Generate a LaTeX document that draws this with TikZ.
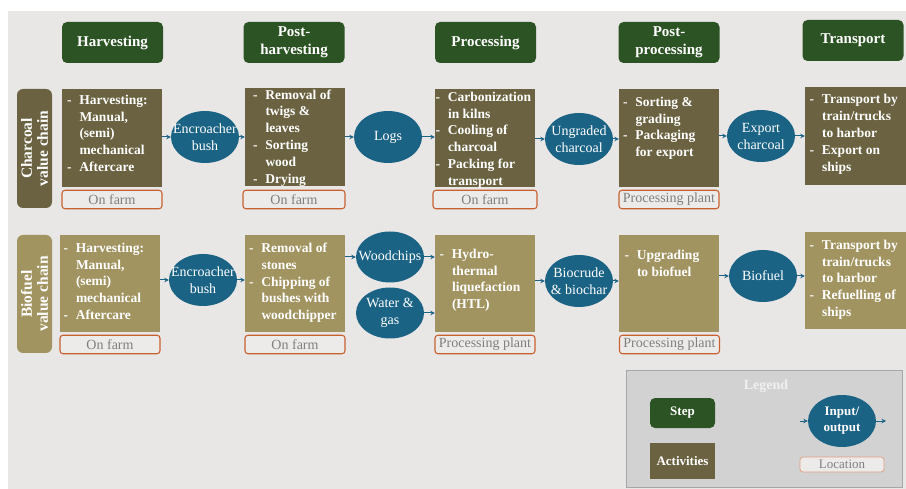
\documentclass[tikz,border=0pt]{standalone}
\usepackage{fontspec}
\setmainfont{Liberation Serif}
\usetikzlibrary{calc,arrows.meta,shapes.geometric}
\definecolor{bgray}{HTML}{E8E7E5}
\definecolor{stepgreen}{HTML}{2C5323}
\definecolor{coalbrown}{HTML}{6A6240}
\definecolor{fuelkhaki}{HTML}{A29460}
\definecolor{ioblue}{HTML}{1B6385}
\definecolor{locorange}{HTML}{C8602F}
\definecolor{locfill}{HTML}{ECEBEA}
\definecolor{locgray}{HTML}{7F7F7F}
\definecolor{leggray}{HTML}{D3D2D2}
\tikzset{>={Stealth[length=4.5pt,width=4.5pt]},
  stepbox/.style={fill=stepgreen,rounded corners=5pt,text=white,align=center,
    minimum width=101,minimum height=41,inner sep=0,
    font=\bfseries\fontsize{15}{18}\selectfont},
  actbox/.style={minimum width=100,minimum height=98,inner sep=0},
  acttxt/.style={anchor=north west,inner sep=0,align=left,text=white,
    font=\bfseries\fontsize{13.5}{16.8}\selectfont},
  chainlbl/.style={rotate=90,rounded corners=6pt,text=white,align=center,
    minimum width=119,minimum height=35,inner sep=0,
    font=\bfseries\fontsize{15.5}{16}\selectfont},
  iobox/.style={ellipse,fill=ioblue,text=white,align=center,
    minimum width=68,minimum height=52,inner xsep=-8pt,inner ysep=0pt,
    font=\fontsize{14}{17}\selectfont},
  locbox/.style={draw=locorange,line width=1.1pt,fill=locfill,rounded corners=3pt,
    text=locgray,minimum width=100,minimum height=18.5,inner sep=0,
    font=\fontsize{14}{16}\selectfont},
  flow/.style={->,draw=ioblue,line width=1pt}}
\newcommand*{\dl}{\makebox[12.5pt][l]{-}}
\newcommand*{\il}{\hspace*{12.5pt}}

\begin{document}
\begin{tikzpicture}[x=1pt,y=-1pt]
\useasboundingbox (0,0) rectangle (906,489);
\fill[bgray] (8,11) rectangle (906,489);
% steps
\node[stepbox] (sHarv) at (112.5,42.5) {Harvesting};
\node[stepbox] (sPostH) at (294,42.5) {Post-\\harvesting};
\node[stepbox] (sProc) at (485.5,42.5) {Processing};
\node[stepbox] (sPostP) at (669,42.5) {Post-\\processing};
\node[stepbox] (sTrans) at (853,40.5) {Transport};
% charcoal value chain
\node[chainlbl,fill=coalbrown] (chLbl) at (34.5,148.5) {Charcoal\\value chain};
\node[actbox,fill=coalbrown] (ch1) at (112,138) {};
\node[actbox,fill=coalbrown] (ch2) at (295,137.5) {};
\node[actbox,fill=coalbrown] (ch3) at (485,138) {};
\node[actbox,fill=coalbrown] (ch4) at (669,138) {};
\node[actbox,fill=coalbrown,minimum width=101] (ch5) at (855.5,136.5) {};
\node[acttxt] (ch1t) at ($(ch1.north west)+(5,6)$)
  {\dl Harvesting:\\\il Manual,\\\il (semi)\\\il mechanical\\\dl Aftercare};
\node[acttxt] (ch2t) at ($(ch2.north west)+(8,1)$)
  {\dl Removal of\\\il twigs \&\\\il leaves\\\dl Sorting\\\il wood\\\dl Drying};
\node[acttxt] (ch3t) at ($(ch3.north west)+(0.5,3)$)
  {\dl Carbonization\\\il in kilns\\\dl Cooling of\\\il charcoal\\\dl Packing for\\\il transport};
\node[acttxt] (ch4t) at ($(ch4.north west)+(4,8)$)
  {\dl Sorting \&\\\il grading\\\dl Packaging\\\il for export};
\node[acttxt] (ch5t) at ($(ch5.north west)+(4.5,7)$)
  {\dl Transport by\\\il train/trucks\\\il to harbor\\\dl Export on\\\il ships};
\foreach \i/\x/\w/\t in {1/112/100/On farm,2/294/102/On farm,3/485/104/On farm,4/669/100/Processing plant}
  \node[locbox,minimum width=\w] (chL\i) at (\x,199.5) {\t};
\node[iobox] (chEb) at (205,137) {Encroacher\\bush};
\node[iobox] (chLogs) at (388,137) {Logs};
\node[iobox] (chUng) at (579,139) {Ungraded\\charcoal};
\node[iobox] (chExp) at (761,136) {Export\\charcoal};
\draw[flow] (ch1.east |- chEb) -- (chEb.west);
\draw[flow] (chEb.east) -- (chEb -| ch2.west);
\draw[flow] (ch2.east |- chLogs) -- (chLogs.west);
\draw[flow] (chLogs.east) -- (chLogs -| ch3.west);
\draw[flow] (ch3.east |- chUng) -- (chUng.west);
\draw[flow] (chUng.east) -- (chUng -| ch4.west);
\draw[flow] (ch4.east |- chExp) -- (chExp.west);
\draw[flow] (chExp.east) -- (chExp -| ch5.west);
% biofuel value chain
\node[chainlbl,fill=fuelkhaki,minimum width=118] (bfLbl) at (34.5,294) {Biofuel\\value chain};
\node[actbox,fill=fuelkhaki,minimum height=97] (bf1) at (110,283.5) {};
\node[actbox,fill=fuelkhaki,minimum height=97] (bf2) at (295,283.5) {};
\node[actbox,fill=fuelkhaki,minimum height=97] (bf3) at (485,283.5) {};
\node[actbox,fill=fuelkhaki,minimum height=97] (bf4) at (669,283.5) {};
\node[actbox,fill=fuelkhaki,minimum height=97,minimum width=101] (bf5) at (855.5,280.5) {};
\node[acttxt] (bf1t) at ($(bf1.north west)+(3.5,8)$)
  {\dl Harvesting:\\\il Manual,\\\il (semi)\\\il mechanical\\\dl Aftercare};
\node[acttxt] (bf2t) at ($(bf2.north west)+(4,8)$)
  {\dl Removal of\\\il stones\\\dl Chipping of\\\il bushes with\\\il woodchipper};
\node[acttxt] (bf3t) at ($(bf3.north west)+(4.5,14)$)
  {\dl Hydro-\\\il thermal\\\il liquefaction\\\il (HTL)};
\node[acttxt] (bf4t) at ($(bf4.north west)+(5.5,15)$)
  {\dl Upgrading\\\il to biofuel};
\node[acttxt] (bf5t) at ($(bf5.north west)+(4.5,8)$)
  {\dl Transport by\\\il train/trucks\\\il to harbor\\\dl Refuelling of\\\il ships};
\foreach \i/\x/\t in {1/110/On farm,2/295/On farm,3/485/Processing plant,4/669.5/Processing plant}
  \node[locbox] (bfL\i) at (\x,344.5) {\t};
\node[iobox] (bfEb) at (203,280) {Encroacher\\bush};
\node[iobox,minimum height=51] (bfWood) at (390,257) {Woodchips};
\node[iobox,minimum height=51] (bfWater) at (390,313) {Water \&\\gas};
\node[iobox] (bfBio) at (579,281) {Biocrude\\\& biochar};
\node[iobox] (bfFuel) at (763,276) {Biofuel};
\draw[flow] (bf1.east |- bfEb) -- (bfEb.west);
\draw[flow] (bfEb.east) -- (bfEb -| bf2.west);
\draw[flow] (bf2.east |- bfWood) -- (bfWood.west);
\draw[flow] (bfWood.east) -- (bfWood -| bf3.west);
\draw[flow] (bfWater.east) -- (bfWater -| bf3.west);
\draw[flow] (bf3.east |- bfBio) -- (bfBio.west);
\draw[flow] (bfBio.east) -- (bfBio -| bf4.west);
\draw[flow] (bf4.east |- bfFuel) -- (bfFuel.west);
\draw[flow] (bfFuel.east) -- (bfFuel -| bf5.west);
% legend
\node[fill=leggray,draw=black!35,line width=1pt,minimum width=276,minimum height=116,inner sep=0] (leg) at (764,429) {};
\node[text=white!94!black,font=\bfseries\fontsize{14}{16}\selectfont] (legT) at (766,386) {Legend};
\node[stepbox,minimum width=65,minimum height=30,font=\bfseries\fontsize{13}{15}\selectfont] (lgStep) at (682.5,413) {Step};
\node[fill=coalbrown,text=white,minimum width=65,minimum height=36,inner sep=0,font=\bfseries\fontsize{13}{15}\selectfont] (lgAct) at (682.5,461) {Activities};
\node[iobox,font=\bfseries\fontsize{13}{16}\selectfont] (lgIo) at (842,421) {Input/\\output};
\coordinate (lgIn) at (800,421);
\coordinate (lgOut) at (886,421);
\draw[flow] (lgIn) -- (lgIo.west);
\draw[flow] (lgIo.east) -- (lgOut);
\node[locbox,draw=locorange!60,line width=0.8pt,minimum width=84,minimum height=15,font=\fontsize{13}{15}\selectfont] (lgLoc) at (842,464.5) {Location};
\end{tikzpicture}
\end{document}
